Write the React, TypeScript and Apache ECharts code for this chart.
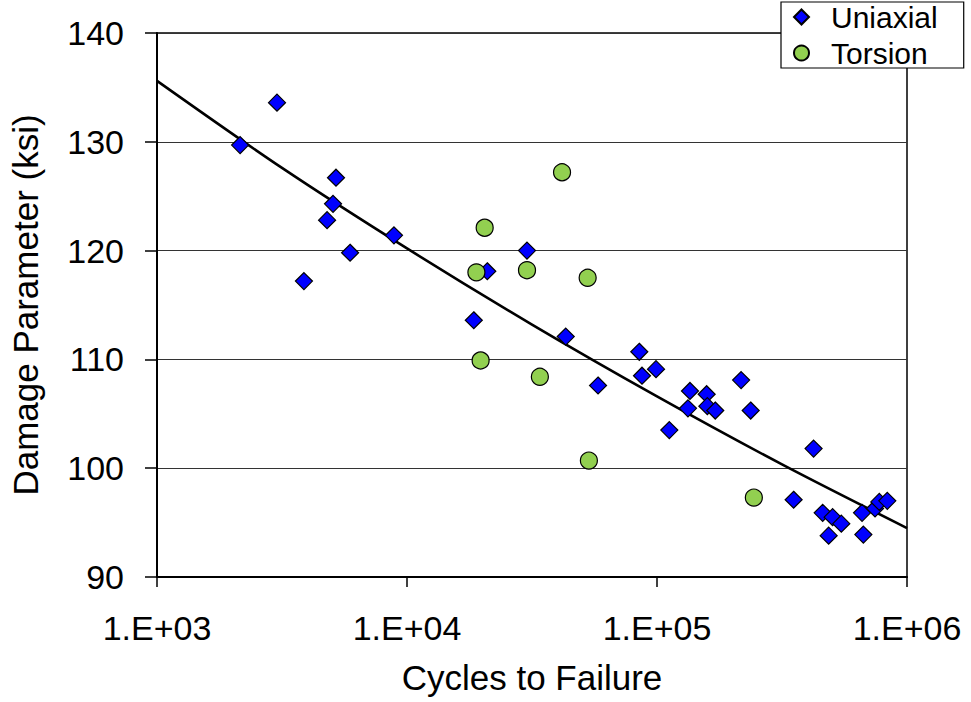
import React, { useEffect, useRef } from "react";
import * as echarts from "echarts";

const uniaxialN = [2150, 3020, 3870, 4790, 5060, 5200, 5920, 8870, 18500, 20950, 30200, 43150, 58100, 84950, 87100, 99100, 135500, 133000, 112000, 158000, 159000, 171000, 217000, 237000, 423000, 352000, 460000, 504000, 546000, 486000, 661000, 669000, 745000, 775000, 834000];
const uniaxialS = [129.7, 133.6, 117.2, 122.8, 124.3, 126.7, 119.8, 121.4, 113.6, 118.1, 120.0, 112.1, 107.6, 110.7, 108.5, 109.1, 107.1, 105.5, 103.5, 106.8, 105.7, 105.3, 108.1, 105.3, 101.8, 97.1, 95.9, 95.5, 94.9, 93.8, 95.9, 93.9, 96.3, 96.9, 97.0];

const torsionN = [41700, 20450, 18950, 30200, 52800, 19700, 34000, 244000, 53400];
const torsionS = [127.2, 122.1, 118.0, 118.2, 117.5, 109.9, 108.4, 97.3, 100.7];

const trendN = [1000, 3162, 10000, 31623, 100000, 316228, 1000000];
const trendS = [135.6, 127.6, 120.2, 113.2, 106.6, 100.35, 94.5];

const yTicks = [90, 100, 110, 120, 130, 140];
const xTickLabels = ["1.E+03", "1.E+04", "1.E+05", "1.E+06"];

const FONT = "'Liberation Sans', Arial, Helvetica, sans-serif";

export default function App() {
  const ref = useRef<HTMLDivElement>(null);
  useEffect(() => {
    if (!ref.current) return;
    const chart = echarts.init(ref.current, null, { renderer: "svg" });
    chart.setOption({
      animation: false,
      backgroundColor: "#ffffff",
      textStyle: { fontFamily: FONT },
      grid: {
        left: 157,
        right: 64,
        top: 33,
        bottom: 125,
        show: true,
        borderColor: "#000",
        borderWidth: 1.5,
        backgroundColor: "transparent",
      },
      legend: {
        data: ["Uniaxial", "Torsion"],
        orient: "vertical",
        left: 781,
        top: 2,
        padding: [0, 26, 0, 12],
        itemGap: 6,
        itemWidth: 15,
        itemHeight: 15,
        backgroundColor: "#ffffff",
        borderColor: "#000",
        borderWidth: 1.2,
        borderRadius: 0,
        z: 10,
        textStyle: {
          fontFamily: FONT,
          fontSize: 30,
          color: "#000",
          padding: [0, 0, 0, 17],
        },
      },
      xAxis: {
        type: "log",
        logBase: 10,
        min: 1000,
        max: 1000000,
        name: "Cycles to Failure",
        nameLocation: "middle",
        nameGap: 83,
        nameTextStyle: { fontFamily: FONT, fontSize: 35, color: "#000" },
        axisLine: { show: true, onZero: false, lineStyle: { color: "#000", width: 2 } },
        axisTick: { show: true, inside: false, length: 10, lineStyle: { color: "#000", width: 1.5 } },
        minorTick: { show: false },
        splitLine: { show: false },
        axisLabel: {
          fontFamily: FONT,
          fontSize: 34,
          color: "#000",
          margin: 34,
          formatter: (v: number) => {
            const e = Math.round(Math.log10(v));
            return xTickLabels[e - 3] ?? "1.E+" + String(e).padStart(2, "0");
          },
        },
      },
      yAxis: {
        type: "value",
        min: yTicks[0],
        max: yTicks[yTicks.length - 1],
        interval: 10,
        name: "Damage Parameter (ksi)",
        nameLocation: "middle",
        nameGap: 114,
        nameTextStyle: { fontFamily: FONT, fontSize: 35, color: "#000" },
        axisLine: { show: true, lineStyle: { color: "#000", width: 2 } },
        axisTick: { show: true, inside: false, length: 12, lineStyle: { color: "#000", width: 1.5 } },
        splitLine: { show: true, lineStyle: { color: "#333", width: 1.2 } },
        axisLabel: { fontFamily: FONT, fontSize: 34, color: "#000", margin: 33 },
      },
      series: [
        {
          name: "Trend",
          type: "line",
          data: trendN.map((n, i) => [n, trendS[i]]),
          showSymbol: false,
          symbol: "none",
          smooth: 0.3,
          lineStyle: { color: "#000", width: 2.6 },
          z: 1,
          silent: true,
        },
        {
          name: "Uniaxial",
          type: "scatter",
          symbol: "diamond",
          symbolSize: 17,
          data: uniaxialN.map((n, i) => [n, uniaxialS[i]]),
          itemStyle: { color: "#0000ff", borderColor: "#000", borderWidth: 1.2, opacity: 1 },
          z: 3,
        },
        {
          name: "Torsion",
          type: "scatter",
          symbol: "circle",
          symbolSize: 17,
          data: torsionN.map((n, i) => [n, torsionS[i]]),
          itemStyle: { color: "#92d050", borderColor: "#000", borderWidth: 1.2, opacity: 1 },
          z: 4,
        },
      ],
    });
    return () => chart.dispose();
  }, []);
  return (
    <div
      ref={ref}
      style={{ position: "fixed", left: 0, top: 0, width: 971, height: 702 }}
    />
  );
}
